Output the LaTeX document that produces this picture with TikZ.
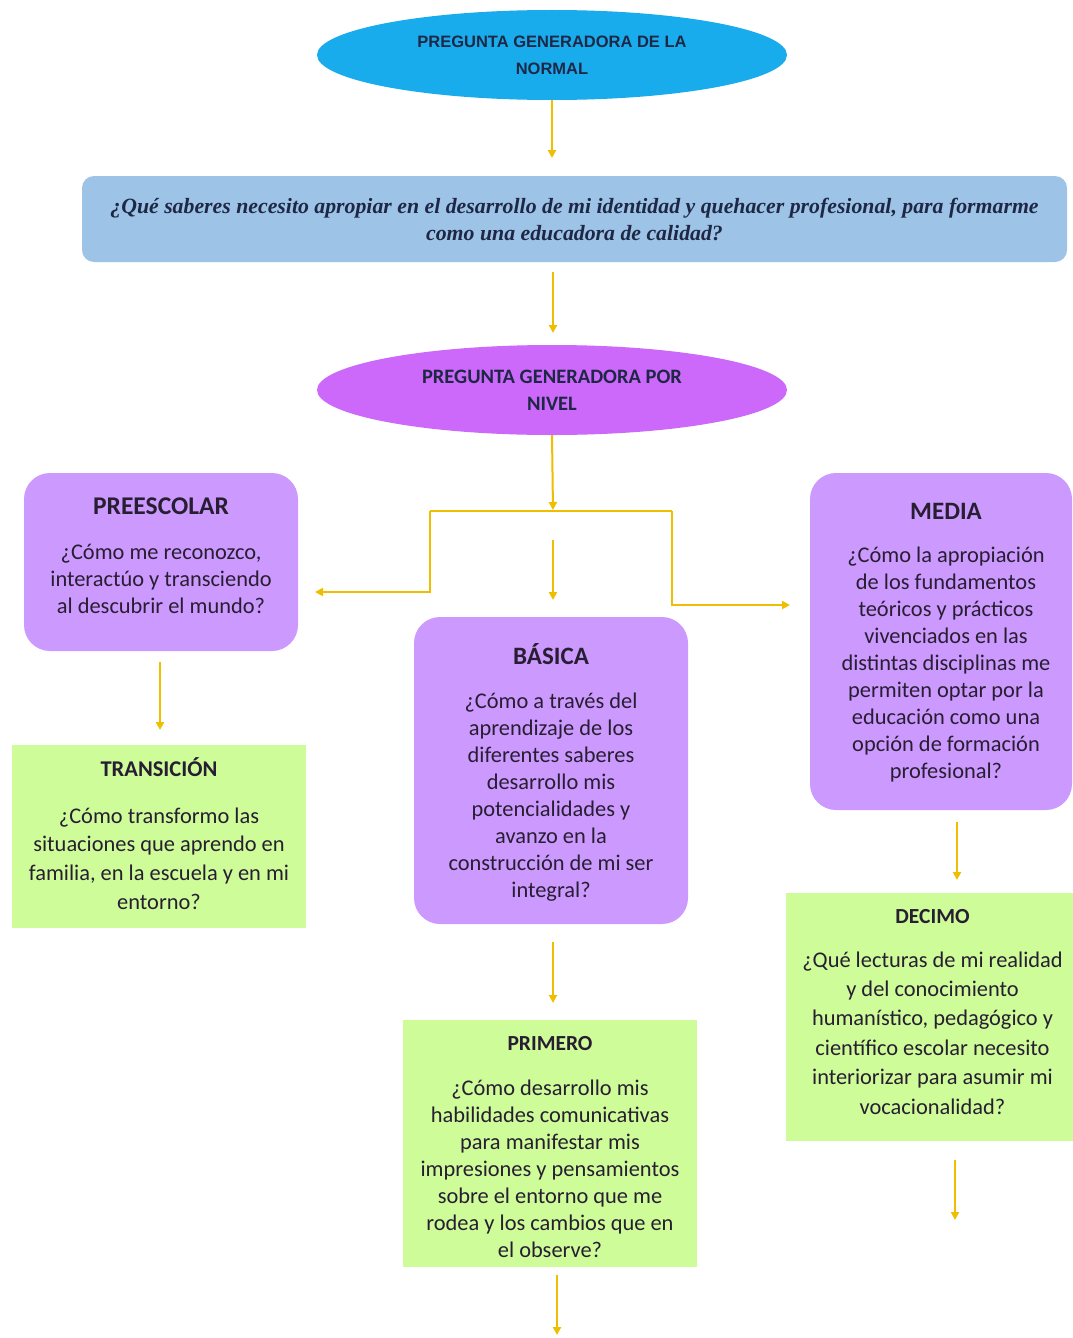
\documentclass[tikz,border=0pt]{standalone}
\usepackage{fontspec}
\setmainfont{Carlito}
\newfontfamily\serifit{Liberation Serif}
\newfontfamily\arialf{Liberation Sans}
\usetikzlibrary{shapes.geometric,arrows.meta}
\definecolor{cyanE}{RGB}{24,172,236}
\definecolor{blueB}{RGB}{157,195,230}
\definecolor{purE}{RGB}{204,104,250}
\definecolor{lav}{RGB}{204,153,255}
\definecolor{grn}{RGB}{206,252,152}
\definecolor{gold}{RGB}{240,190,0}
\definecolor{navyT}{RGB}{30,40,70}
\definecolor{darkT}{RGB}{40,30,50}
\begin{document}
\begin{tikzpicture}[x=1pt,y=-1pt,
  conn/.style={draw=gold, line width=2pt, -{Triangle[length=8pt,width=8pt]}},
  link/.style={draw=gold, line width=2pt},
  oval/.style={ellipse, minimum width=470pt, minimum height=90pt, inner sep=0pt, align=flush center, text=navyT},
  lilac/.style={rectangle, rounded corners=26pt, fill=lav, inner sep=0pt},
  lime/.style={rectangle, fill=grn, inner sep=0pt},
  txt/.style={align=flush center, text=darkT, inner sep=0pt, font=\fontsize{22.4}{27}\selectfont},
]
\useasboundingbox[fill=white] (0,0) rectangle (1073,1338);

% ellipses and question box
\node[oval, fill=cyanE, font=\fontsize{16.5}{27}\selectfont\arialf\bfseries] (normal) at (552,55) {PREGUNTA GENERADORA DE LA\\NORMAL};
\node[rectangle, rounded corners=12pt, fill=blueB, minimum width=985pt, minimum height=86pt, align=flush center, text=navyT, inner sep=0pt,
      font=\fontsize{21.8}{27}\selectfont\serifit\itshape\bfseries] (pregunta) at (574.5,219)
  {¿Qué saberes necesito apropiar en el desarrollo de mi identidad y quehacer profesional, para formarme\\como una educadora de calidad?};
\node[oval, fill=purE, font=\fontsize{20.5}{27}\selectfont\bfseries] (nivel) at (552,390) {PREGUNTA GENERADORA POR\\NIVEL};

% boxes
\node[lilac, minimum width=274pt, minimum height=178pt] (pre) at (161,562) {};
\node[txt, text width=270pt] (preT) at (161,556) {{\fontsize{25.5}{27}\selectfont\bfseries PREESCOLAR}\\[18pt]¿Cómo me reconozco,\\interactúo y transciendo\\al descubrir el mundo?};

\node[lilac, minimum width=262pt, minimum height=337pt] (media) at (941,641.5) {};
\node[txt, text width=262pt] (mediaT) at (946,643) {{\fontsize{25}{27}\selectfont\bfseries MEDIA}\\[16pt]¿Cómo la apropiación\\de los fundamentos\\teóricos y prácticos\\vivenciados en las\\distintas disciplinas me\\permiten optar por la\\educación como una\\opción de formación\\profesional?};

\node[lilac, minimum width=274pt, minimum height=307pt] (basica) at (551,770.5) {};
\node[txt, text width=270pt] (basicaT) at (551,772) {{\fontsize{25}{27}\selectfont\bfseries BÁSICA}\\[17pt]¿Cómo a través del\\aprendizaje de los\\diferentes saberes\\desarrollo mis\\potencialidades y\\avanzo en la\\construcción de mi ser\\integral?};

\node[lime, minimum width=294pt, minimum height=183pt] (trans) at (159,836.5) {};
\node[txt, text width=292pt, font=\fontsize{22.4}{28.7}\selectfont] (transT) at (159,833.5) {{\fontsize{22.5}{27}\selectfont\bfseries TRANSICIÓN}\\[18pt]¿Cómo transformo las\\situaciones que aprendo en\\familia, en la escuela y en mi\\entorno?};

\node[lime, minimum width=294pt, minimum height=247pt] (primero) at (550,1143.5) {};
\node[txt, text width=292pt] (primeroT) at (550,1147) {{\fontsize{21.5}{27}\selectfont\bfseries PRIMERO}\\[18pt]¿Cómo desarrollo mis\\habilidades comunicativas\\para manifestar mis\\impresiones y pensamientos\\sobre el entorno que me\\rodea y los cambios que en\\el observe?};

\node[lime, minimum width=287pt, minimum height=248pt] (decimo) at (929.5,1017) {};
\node[txt, text width=285pt, font=\fontsize{22.4}{29.4}\selectfont] (decimoT) at (932.5,1012) {{\fontsize{21.5}{27}\selectfont\bfseries DECIMO}\\[14pt]¿Qué lecturas de mi realidad\\y del conocimiento\\humanístico, pedagógico y\\científico escolar necesito\\interiorizar para asumir mi\\vocacionalidad?};

% connector end points
\coordinate (a1) at (552,158);
\coordinate (a2s) at (553,272);
\coordinate (a2e) at (553,333);
\coordinate (a3e) at (553,510);
\coordinate (bl) at (430,511);
\coordinate (br) at (672,511);
\coordinate (lt) at (315,592);
\coordinate (rt) at (790,605);
\coordinate (m1) at (553,540);
\coordinate (m2) at (553,600);
\coordinate (p1) at (160,662);
\coordinate (p2) at (160,730);
\coordinate (b1) at (553,942);
\coordinate (b2) at (553,1003);
\coordinate (me1) at (957,822);
\coordinate (me2) at (957,880);
\coordinate (d1) at (955,1160);
\coordinate (d2) at (955,1220);
\coordinate (pr1) at (557,1275);
\coordinate (pr2) at (557,1335);

% connectors
\draw[conn] (normal.south) -- (a1);
\draw[conn] (a2s) -- (a2e);
\draw[conn] (nivel.south) -- (a3e);
\draw[link] (bl) -- (br);
\draw[conn] (bl) |- (lt);
\draw[conn] (br) |- (rt);
\draw[conn] (m1) -- (m2);
\draw[conn] (p1) -- (p2);
\draw[conn] (b1) -- (b2);
\draw[conn] (me1) -- (me2);
\draw[conn] (d1) -- (d2);
\draw[conn] (pr1) -- (pr2);
\end{tikzpicture}
\end{document}
